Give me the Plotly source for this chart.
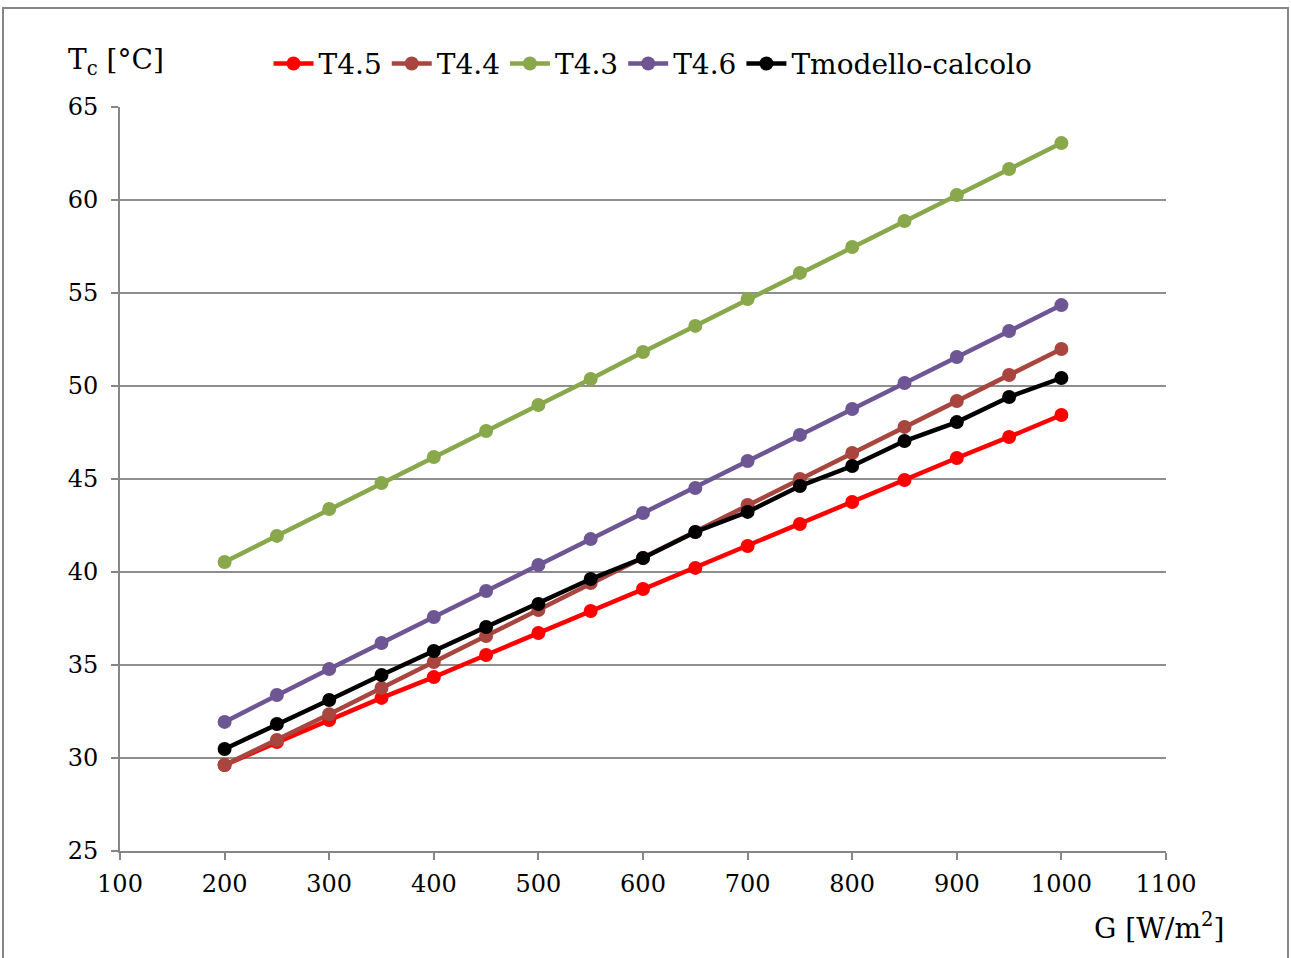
import plotly.graph_objects as go

G = [200, 250, 300, 350, 400, 450, 500, 550, 600, 650, 700, 750, 800, 850, 900, 950, 1000]

T45 = [29.62, 30.86, 32.04, 33.23, 34.35, 35.54, 36.72, 37.90, 39.09, 40.22, 41.40, 42.58, 43.76, 44.95, 46.13, 47.26, 48.44]
T44 = [29.62, 30.97, 32.35, 33.76, 35.16, 36.56, 37.96, 39.41, 40.75, 42.15, 43.60, 45.00, 46.40, 47.80, 49.19, 50.59, 51.99]
T43 = [40.54, 41.94, 43.39, 44.78, 46.18, 47.58, 48.98, 50.38, 51.83, 53.23, 54.68, 56.08, 57.47, 58.87, 60.27, 61.67, 63.06]
T46 = [31.94, 33.39, 34.78, 36.18, 37.58, 38.98, 40.38, 41.77, 43.17, 44.52, 45.97, 47.37, 48.76, 50.16, 51.56, 52.96, 54.35]
Tmod = [30.48, 31.83, 33.12, 34.46, 35.75, 37.04, 38.28, 39.62, 40.75, 42.15, 43.23, 44.62, 45.70, 47.04, 48.06, 49.41, 50.43]

series = [
    ("T4.5", T45, "#FF0000"),
    ("T4.4", T44, "#A8453F"),
    ("T4.3", T43, "#88A84B"),
    ("T4.6", T46, "#6E5593"),
    ("Tmodello-calcolo", Tmod, "#000000"),
]

FONT = "DejaVu Serif"

fig = go.Figure()
for name, vals, col in series:
    fig.add_trace(go.Scatter(
        x=G, y=vals, name=name, mode="lines+markers",
        line=dict(color=col, width=4.5),
        marker=dict(color=col, size=14, symbol="circle"),
    ))

fig.update_layout(
    width=1291, height=958,
    margin=dict(l=120, r=125, t=107, b=107),
    paper_bgcolor="white", plot_bgcolor="white",
    font=dict(family=FONT, size=24, color="#000000"),
    showlegend=True,
    legend=dict(
        orientation="h", x=0.142, y=1.058, xanchor="left", yanchor="middle",
        font=dict(family=FONT, size=28, color="#000000"),
        itemwidth=40, tracegroupgap=0, bgcolor="rgba(0,0,0,0)",
    ),
    xaxis=dict(
        range=[100, 1100], tickmode="array",
        tickvals=list(range(100, 1101, 100)),
        showgrid=False, zeroline=False,
        showline=True, linecolor="#868686", linewidth=2,
        ticks="outside", ticklen=7, tickcolor="#868686", tickwidth=2,
        ticklabelstandoff=3,
        tickfont=dict(family=FONT, size=24),
    ),
    yaxis=dict(
        range=[25, 65], tickmode="array",
        tickvals=list(range(25, 66, 5)),
        showgrid=True, gridcolor="#8E8E8E", gridwidth=2,
        zeroline=False,
        showline=True, linecolor="#868686", linewidth=2,
        ticks="outside", ticklen=7, tickcolor="#868686", tickwidth=2,
        ticklabelstandoff=8,
        tickfont=dict(family=FONT, size=24),
    ),
    annotations=[
        dict(text="T<sub>c</sub> [°C]", xref="paper", yref="paper",
             x=(66 - 120) / 1046, y=(851 - 62) / 744, xanchor="left", yanchor="middle",
             showarrow=False, font=dict(family=FONT, size=28)),
        dict(text="G [W/m<sup>2</sup>]", xref="paper", yref="paper",
             x=(1226 - 120) / 1046, y=(851 - 926) / 744, xanchor="right", yanchor="middle",
             showarrow=False, font=dict(family=FONT, size=28)),
    ],
    shapes=[
        dict(type="rect", xref="paper", yref="paper",
             x0=(3 - 120) / 1046, x1=(1288 - 120) / 1046,
             y0=(851 - 975) / 744, y1=(851 - 8) / 744,
             line=dict(color="#868686", width=2), fillcolor="rgba(0,0,0,0)", layer="below"),
    ],
)

fig.write_html("out.html")
